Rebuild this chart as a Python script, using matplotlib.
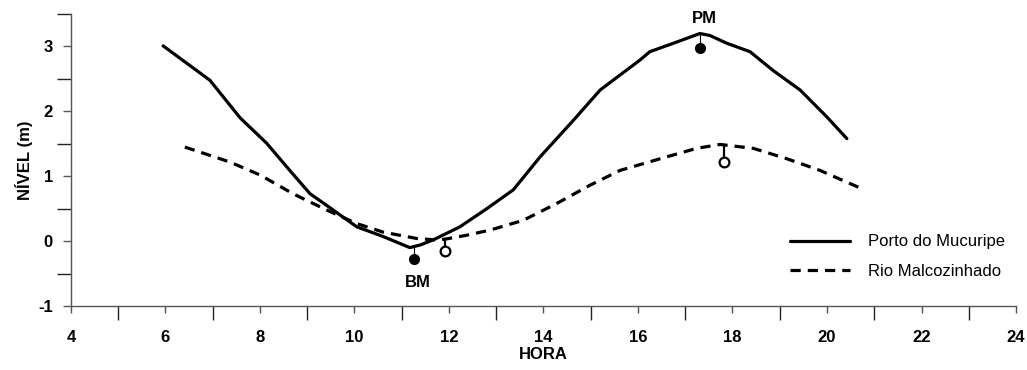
import matplotlib
matplotlib.use("Agg")
import matplotlib.pyplot as plt
import numpy as np

plt.rcParams['font.family'] = ['Liberation Sans', 'DejaVu Sans']
plt.rcParams['font.size'] = 12
plt.rcParams['axes.unicode_minus'] = False

# Porto do Mucuripe (solid curve)
porto_hora = [5.95, 6.94, 7.58, 8.14, 8.63, 9.06, 9.55, 9.70, 10.05, 10.61, 11.17,
              11.39, 11.67, 12.23, 12.80, 13.36, 13.93, 14.63, 15.20, 15.62, 16.04,
              16.25, 16.75, 17.31, 17.52, 17.88, 18.37, 18.86, 19.43, 19.99, 20.42]
porto_nivel = [3.01, 2.48, 1.90, 1.51, 1.09, 0.73, 0.48, 0.40, 0.22, 0.07, -0.10,
               -0.06, 0.02, 0.22, 0.50, 0.79, 1.30, 1.86, 2.33, 2.56, 2.79,
               2.92, 3.05, 3.20, 3.17, 3.05, 2.92, 2.63, 2.33, 1.92, 1.58]

# Rio Malcozinhado (dashed curve)
rio_hora = [6.41, 7.36, 8.00, 8.70, 9.41, 10.05, 10.60, 11.32, 11.80, 12.37, 12.87,
            13.57, 14.28, 14.98, 15.62, 16.47, 17.24, 17.74, 18.44, 19.15, 19.85, 20.73]
rio_nivel = [1.45, 1.22, 1.02, 0.73, 0.48, 0.27, 0.14, 0.04, 0.015, 0.09, 0.17,
             0.32, 0.58, 0.86, 1.09, 1.27, 1.43, 1.49, 1.43, 1.27, 1.09, 0.81]

# predicted low/high water (BM / PM)
mare_rotulos = ['BM', 'PM']
porto_prev_hora = [11.25, 17.31]
porto_prev_nivel = [-0.28, 2.98]
rio_prev_hora = [11.92, 17.82]
rio_prev_nivel = [-0.15, 1.22]

fig = plt.figure(figsize=(10.27, 3.70), dpi=100)
ax = fig.add_axes([0.0691, 0.173, 0.9202, 0.789])

ax.plot(porto_hora, porto_nivel, color='black', lw=2.3, solid_capstyle='round',
        solid_joinstyle='round', label='Porto do Mucuripe')
ax.plot(rio_hora, rio_nivel, color='black', lw=2.3, linestyle=(0, (3.2, 2.2)),
        label='Rio Malcozinhado')

# stems from curve down to predicted points
for h, v in zip(porto_prev_hora, porto_prev_nivel):
    top = np.interp(h, porto_hora, porto_nivel)
    ax.plot([h, h], [top, v], color='black', lw=0.8)
for h, v in zip(rio_prev_hora, rio_prev_nivel):
    top = np.interp(h, rio_hora, rio_nivel)
    ax.plot([h, h], [top, v], color='black', lw=1.6)

ax.plot(porto_prev_hora, porto_prev_nivel, 'o', color='black', ms=7)
ax.plot(rio_prev_hora, rio_prev_nivel, 'o', mfc='white', mec='black', mew=1.6, ms=7)

# BM below, PM above the curve
ax.annotate(mare_rotulos[0], (porto_prev_hora[0], porto_prev_nivel[0]),
            xytext=(3, -17), textcoords='offset points', ha='center', va='center',
            fontweight='bold')
ax.annotate(mare_rotulos[1], (porto_prev_hora[1], np.interp(porto_prev_hora[1], porto_hora, porto_nivel)),
            xytext=(3, 11), textcoords='offset points', ha='center', va='center',
            fontweight='bold')

ax.set_xlim(4, 24)
ax.set_ylim(-1, 3.5)
ax.set_xticks(np.arange(4, 25, 2))
ax.set_xticks(np.arange(5, 24, 2), minor=True)
ax.set_yticks(np.arange(-1, 4, 1))
ax.set_yticks(np.arange(-0.5, 3.6, 1), minor=True)

for s in ['top', 'right']:
    ax.spines[s].set_visible(False)
for s in ['left', 'bottom']:
    ax.spines[s].set_color('#555555')
    ax.spines[s].set_linewidth(1.0)

ax.tick_params(axis='x', which='major', length=5, width=1, color='#555555', pad=12)
ax.tick_params(axis='x', which='minor', length=10, width=1, color='#222222')
ax.tick_params(axis='y', which='major', length=6, width=1, color='#555555', pad=7)
ax.tick_params(axis='y', which='minor', length=10, width=1, color='#222222')
for lab in ax.get_xticklabels() + ax.get_yticklabels():
    lab.set_fontweight('bold')

ax.set_xlabel('HORA', fontweight='bold', labelpad=2)
ax.set_ylabel('NÍVEL (m)', fontweight='bold', labelpad=4)

ax.legend(loc='upper left', bbox_to_anchor=(0.761, 0.245), frameon=False,
          handlelength=3.6, handletextpad=1.1, labelspacing=0.85,
          borderpad=0, borderaxespad=0)

fig.savefig('out.png', dpi=100)
